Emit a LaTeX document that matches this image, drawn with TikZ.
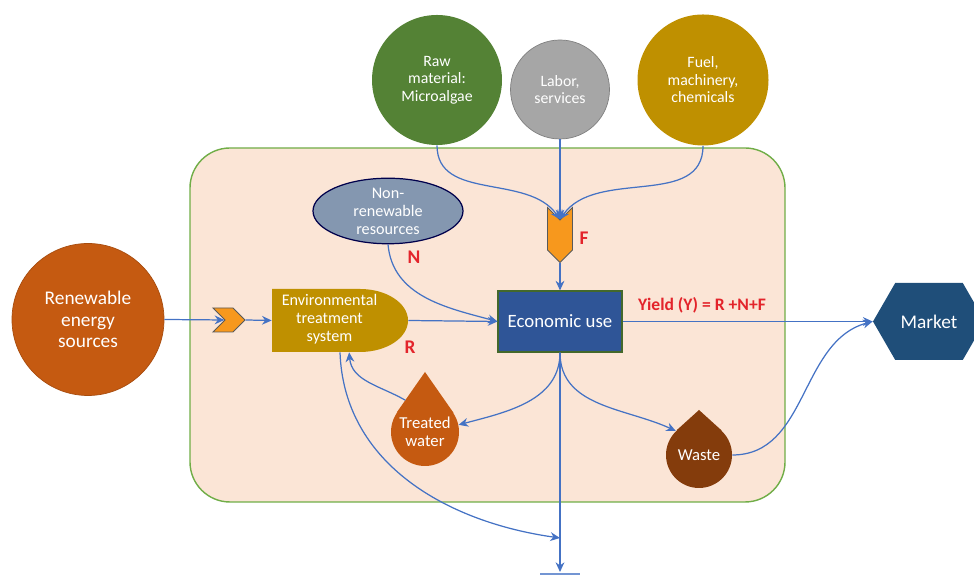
\documentclass[tikz,border=0pt]{standalone}
\usepackage{fontspec}
\setmainfont{Carlito}
\usetikzlibrary{arrows.meta,shapes.geometric,shapes.symbols,calc}

\definecolor{panelfill}{HTML}{FBE5D6}
\definecolor{panelline}{HTML}{70AD47}
\definecolor{flowblue}{HTML}{4472C4}
\definecolor{rust}{HTML}{C55A11}
\definecolor{gold}{HTML}{BF9000}
\definecolor{algae}{HTML}{548235}
\definecolor{slate}{HTML}{8497B0}
\definecolor{navy}{HTML}{2F5597}
\definecolor{deepnavy}{HTML}{1F4E79}
\definecolor{brownish}{HTML}{843C0C}
\definecolor{chevorange}{HTML}{F7981D}
\definecolor{labelred}{HTML}{E3242B}

\begin{document}
\begin{tikzpicture}[
  flow/.style={draw=flowblue, line width=0.7pt, -{Stealth[length=5.5pt,width=5pt]}},
  line/.style={draw=flowblue, line width=0.7pt},
  source/.style={circle, fill=#1, text=white, align=center, inner sep=0pt},
  chev/.style={signal, signal pointer angle=90, fill=chevorange, draw=black!65, line width=0.5pt, inner sep=0pt},
  tag/.style={text=labelred, font=\fontsize{11}{12}\selectfont\bfseries},
  small/.style={font=\fontsize{9}{10}\selectfont}
]

\useasboundingbox (0,0) rectangle (19.48,11.56);

% system boundary
\draw[panelline, fill=panelfill, line width=0.8pt, rounded corners=0.8cm] (3.8,1.52) rectangle (15.7,8.6);

% sources
\node[source=rust, draw=rust!85!black, minimum size=3.04cm, font=\fontsize{11}{12.4}\selectfont] (ren) at (1.76,5.17) {Renewable\\energy\\sources};
\node[source=algae, minimum size=2.6cm, small] (raw) at (8.74,9.96) {Raw\\material:\\Microalgae};
\node[source=black!35, draw=black!50, minimum size=1.98cm, small] (lab) at (11.2,9.77) {Labor,\\services};
\node[source=gold, minimum size=2.62cm, small] (fuel) at (14.06,9.96) {Fuel,\\machinery,\\chemicals};

% treatment unit (flat left side, rounded right side)
\fill[gold] (5.44,5.78) -- (7.2,5.78) arc[start angle=90, end angle=-90, x radius=0.96, y radius=0.63] -- (5.44,4.52) -- cycle;
\node[minimum width=2.72cm, minimum height=1.26cm, inner sep=0pt] (env) at (6.8,5.15) {};
\node[text=white, align=center, font=\fontsize{9.2}{10.2}\selectfont] (envtext) at ($(env.center)+(-0.21,0.02)$) {Environmental\\treatment\\system};

\node[chev, signal to=east, signal from=west, minimum width=0.64cm, minimum height=0.48cm] (chevA) at (4.58,5.16) {};
\node[ellipse, fill=slate, draw=black!70!blue, line width=0.7pt, text=white, align=center, inner sep=0pt,
      minimum width=3.0cm, minimum height=1.04cm, font=\fontsize{9.2}{10.2}\selectfont] (nr) at (7.76,7.34) {Non-\\renewable\\resources};
\node[chev, signal to=south, signal from=north, minimum width=0.5cm, minimum height=0.6cm] (chevF) at (11.2,6.86) {};
\node[rectangle, fill=navy, draw=panelline!60!black, line width=0.6pt, text=white, minimum width=2.48cm, minimum height=1.22cm,
      font=\fontsize{10.7}{12}\selectfont] (eco) at (11.2,5.13) {Economic use};

% drops
\node[source=rust, minimum size=1.36cm, font=\fontsize{9.5}{10.4}\selectfont] (tw) at (8.5,2.92) {Treated\\water};
\coordinate (twtip) at ($(tw.center)+(0,1.2)$);
\fill[rust] (tw.145.5) -- (twtip) -- (tw.34.5) -- cycle;
\node[source=brownish, minimum size=1.32cm, font=\fontsize{9.5}{10.4}\selectfont] (wst) at (13.98,2.46) {Waste};
\fill[brownish] (wst.132.8) -- ($(wst.center)+(0,0.9)$) -- (wst.47.2) -- cycle;

% market
\node[signal, signal to=east and west, signal pointer angle=120, fill=deepnavy, text=white, inner sep=0pt,
      minimum width=2.24cm, minimum height=1.54cm, font=\fontsize{11}{12}\selectfont] (mkt) at (18.58,5.13) {Market};

\coordinate (sinkrow) at (0,0.8);
\coordinate (gndrow) at (0,0.12);
\coordinate (sink) at (eco.south |- sinkrow);
\coordinate (gnd) at (eco.south |- gndrow);

% flows
\draw[flow] (ren.east) -- (chevA.west);
\draw[flow] (chevA.east) -- (env.west);
\draw[flow] (env.east) -- (eco.west);
\draw[flow] (nr.south) to[out=-85,in=165] (eco.west);
\draw[flow] (raw.south) to[out=-90,in=125] (chevF.north);
\draw[flow] (lab.south) -- (chevF.north);
\draw[flow] (fuel.south) to[out=-90,in=55] (chevF.north);
\draw[flow] (chevF.south) -- (eco.north);
\draw[flow] (eco.east) -- (mkt.west);
\draw[flow] (wst.east) to[out=0,in=195] (mkt.west);
\draw[flow] (eco.south) to[out=-90,in=15] (tw.12);
\draw[flow] (eco.south) to[out=-90,in=155] (wst.134);
\draw[flow] ($(tw.145.5)!0.3!(twtip)$) to[out=150,in=-85] (env.-74);
\draw[flow] (env.south) to[out=-88,in=172] (sink);
\draw[flow] (eco.south) -- (gnd);
\draw[line, draw=flowblue!75, line width=1.4pt] ($(gnd)+(-0.4,-0.04)$) -- ($(gnd)+(0.4,-0.04)$);

% labels
\node[tag] (labF) at (11.68,6.8) {F};
\node[tag] (labN) at (8.28,6.42) {N};
\node[tag] (labR) at (8.2,4.62) {R};
\node[tag, font=\fontsize{10}{12}\selectfont\bfseries] (yield) at (14.04,5.46) {Yield (Y) = R +N+F};

\end{tikzpicture}
\end{document}
